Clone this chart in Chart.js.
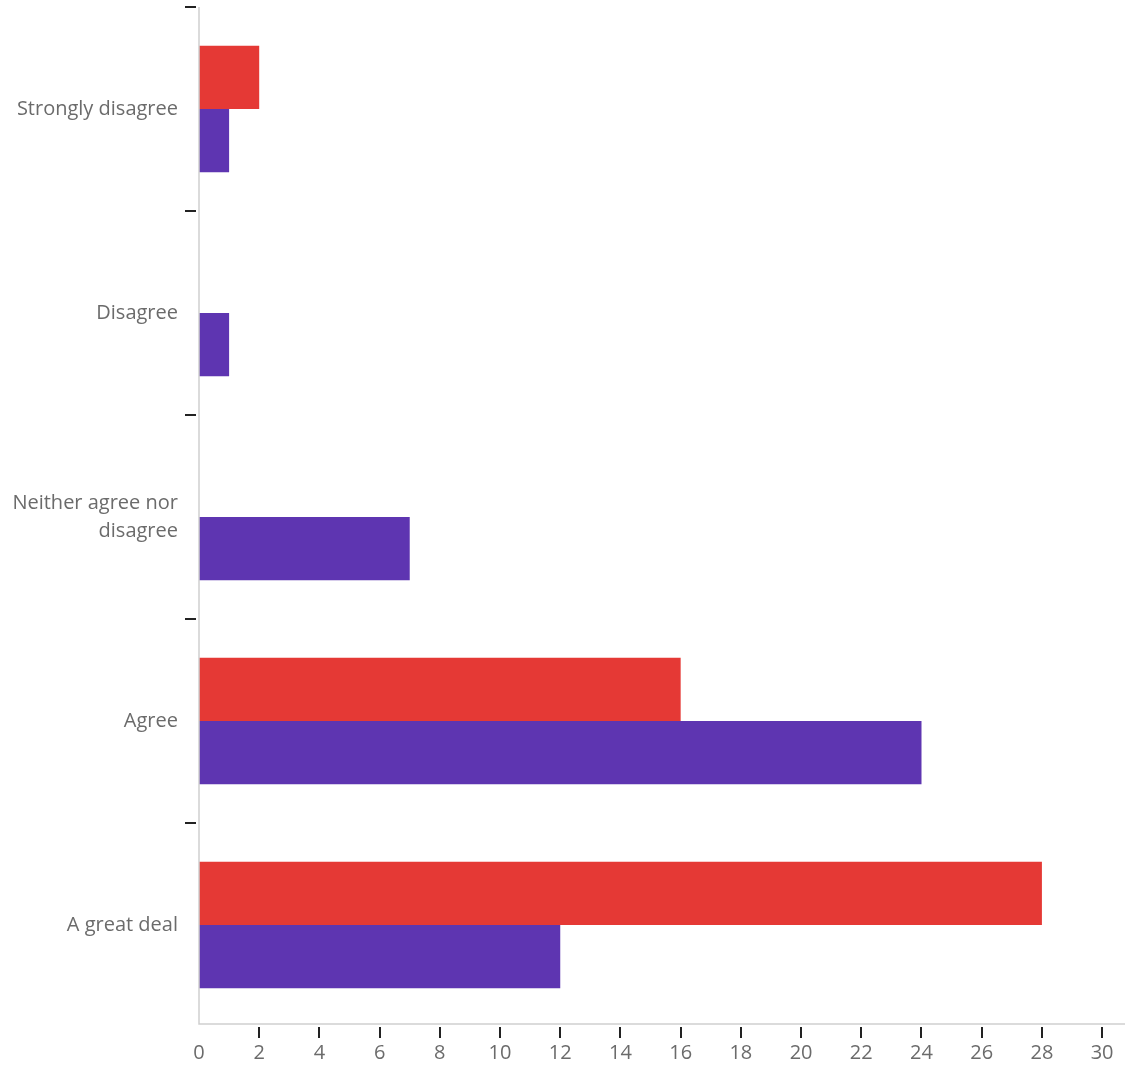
<!DOCTYPE html>
<html lang="en">
<head>
    <meta charset="UTF-8">
    <title>Responses</title>
    <style>
    body {
        margin: 0;
        padding: 0;
        background-color: white;
    }
    .chart-container {
        position: relative;
        width: 1125px;
        height: 1067px;
    }
    </style>
    <script src="https://cdn.jsdelivr.net/npm/chart.js"></script>
</head>
<body>
    <div class="chart-container">
        <canvas id="responseChart"></canvas>
    </div>

    <script>
    // data
    const categories = ['Strongly disagree', 'Disagree', ['Neither agree nor', 'disagree'], 'Agree', 'A great deal'];
    const redValues = [2, 0, 0, 16, 28];
    const purpleValues = [1, 1, 7, 24, 12];
    const xTicks = [0, 2, 4, 6, 8, 10, 12, 14, 16, 18, 20, 22, 24, 26, 28, 30];

    // axis lines + little black tick marks drawn a bit away from them
    const axisMarks = {
        id: 'axisMarks',
        afterDraw(chart) {
            const ctx = chart.ctx;
            const area = chart.chartArea;
            const x = chart.scales.x;
            const base = area.bottom - 3;
            ctx.save();
            ctx.strokeStyle = '#cfcfcf';
            ctx.lineWidth = 1.5;
            ctx.beginPath();
            ctx.moveTo(area.left, area.top);
            ctx.lineTo(area.left, base);
            ctx.lineTo(area.right, base);
            ctx.stroke();

            ctx.strokeStyle = '#222';
            ctx.lineWidth = 2;
            ctx.beginPath();
            xTicks.forEach(v => {
                if (v === 0) return;
                const px = Math.round(x.getPixelForValue(v));
                ctx.moveTo(px, base + 3);
                ctx.lineTo(px, base + 14);
            });
            const step = (area.bottom - area.top) / categories.length;
            for (let i = 0; i < categories.length; i++) {
                const py = Math.round(area.top + i * step);
                ctx.moveTo(area.left - 14, py);
                ctx.lineTo(area.left - 3, py);
            }
            ctx.stroke();
            ctx.restore();
        }
    };

    const labelFont = { family: 'Open Sans', size: 20, lineHeight: 1.4 };

    const ctx = document.getElementById('responseChart').getContext('2d');
    new Chart(ctx, {
        type: 'bar',
        data: {
            labels: categories,
            datasets: [
                {
                    label: 'Red',
                    data: redValues,
                    backgroundColor: '#E53935',
                    categoryPercentage: 0.62,
                    barPercentage: 1
                },
                {
                    label: 'Purple',
                    data: purpleValues,
                    backgroundColor: '#5E35B1',
                    categoryPercentage: 0.62,
                    barPercentage: 1
                }
            ]
        },
        options: {
            indexAxis: 'y',
            responsive: true,
            maintainAspectRatio: false,
            animation: false,
            layout: { padding: { top: 7, right: 0, left: 0, bottom: 0 } },
            scales: {
                x: {
                    min: 0,
                    max: 30.76,
                    afterBuildTicks: function(scale) {
                        scale.ticks = xTicks.map(v => ({ value: v }));
                    },
                    afterFit: function(scale) {
                        scale.height = 40;
                        scale.paddingLeft = 0;
                        scale.paddingRight = 0;
                    },
                    grid: { display: false, drawTicks: false },
                    border: { display: false },
                    ticks: {
                        padding: 14,
                        color: '#6b6b6b',
                        font: { family: 'Open Sans', size: 20 }
                    }
                },
                y: {
                    afterFit: function(scale) {
                        scale.width = 199;
                        scale.paddingTop = 0;
                        scale.paddingBottom = 0;
                    },
                    grid: { display: false, drawTicks: false },
                    border: { display: false },
                    ticks: {
                        padding: 21,
                        color: '#6b6b6b',
                        font: labelFont
                    }
                }
            },
            plugins: {
                legend: { display: false },
                tooltip: { enabled: false }
            }
        },
        plugins: [axisMarks]
    });
    </script>
</body>
</html>
